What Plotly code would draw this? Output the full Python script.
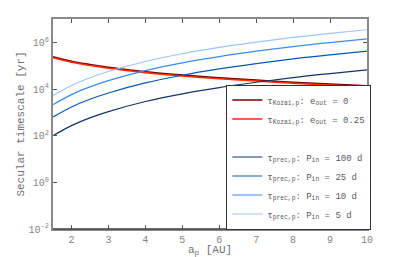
import plotly.graph_objects as go

a_p = [1.5, 2, 2.5, 3, 4, 5, 6, 7, 8, 9, 10]

kozai_e0 = [240000, 155000, 112000, 85000, 55000, 40000, 30200, 24000, 19500, 16200, 13800]
kozai_e025 = [218000, 141000, 102000, 77000, 50000, 36300, 27400, 21800, 17700, 14700, 12500]

prec_100d = [100, 270, 580, 1070, 2900, 6200, 11500, 19500, 31000, 46000, 66000]
prec_25d = [630, 1700, 3630, 6760, 18200, 38900, 72400, 123000, 195000, 288000, 417000]
prec_10d = [2140, 5750, 12300, 22900, 61700, 132000, 245000, 417000, 661000, 977000, 1410000]
prec_5d = [5250, 14100, 30200, 56200, 151000, 324000, 603000, 1020000, 1620000, 2400000, 3470000]

x_ticks = [2, 3, 4, 5, 6, 7, 8, 9, 10]
y_ticks = [1e-2, 1, 1e2, 1e4, 1e6]
y_tick_text = ["10<sup>-2</sup>", "10<sup>0</sup>", "10<sup>2</sup>", "10<sup>4</sup>", "10<sup>6</sup>"]

names = [
    "τ<sub>Kozai,p</sub>: e<sub>out</sub> = 0",
    "τ<sub>Kozai,p</sub>: e<sub>out</sub> = 0.25",
    "τ<sub>prec,p</sub>: P<sub>in</sub> = 100 d",
    "τ<sub>prec,p</sub>: P<sub>in</sub> = 25 d",
    "τ<sub>prec,p</sub>: P<sub>in</sub> = 10 d",
    "τ<sub>prec,p</sub>: P<sub>in</sub> = 5 d",
]

MONO = "Liberation Mono"

fig = go.Figure()

def add(y, name, color, width):
    fig.add_trace(go.Scatter(x=a_p, y=y, name=name, mode="lines",
                             line=dict(color=color, width=width, shape="spline")))

add(kozai_e0, names[0], "#7a0000", 1.6)
add(kozai_e025, names[1], "#ff2a00", 1.5)
fig.add_trace(go.Scatter(x=[None], y=[None], name=" ", mode="lines",
                         line=dict(color="rgba(0,0,0,0)", width=1)))
add(prec_100d, names[2], "#15336b", 1.2)
add(prec_25d, names[3], "#0a56b8", 1.2)
add(prec_10d, names[4], "#3a8cec", 1.2)
add(prec_5d, names[5], "#9cc6ff", 1.2)

axis_common = dict(
    showgrid=False, zeroline=False, ticks="inside", ticklen=4,
    tickcolor="#555555", mirror="ticks", showline=True, linewidth=2,
    linecolor="#8a8a8a", automargin=False,
    tickfont=dict(family=MONO, size=10, color="#858585"),
)

fig.update_xaxes(range=[1.5, 10], tickvals=x_ticks,
                 title=dict(text="a<sub>p</sub> [AU]", standoff=0,
                            font=dict(family=MONO, size=11, color="#707070")),
                 **axis_common)
fig.update_yaxes(type="log", range=[-2, 7], tickvals=y_ticks, ticktext=y_tick_text,
                 title=dict(text="Secular timescale [yr]", standoff=2,
                            font=dict(family=MONO, size=11, color="#707070")),
                 **axis_common)

# darker bottom axis line, as in the reference
fig.add_shape(type="line", xref="paper", yref="paper", x0=0, x1=1, y0=0, y1=0,
              line=dict(color="#404040", width=1.5), layer="above")

# page body has an 8px default margin: compensate in size/margins
fig.update_layout(
    width=399, height=249, autosize=False,
    margin=dict(l=45, r=40, t=11, b=28),
    plot_bgcolor="white", paper_bgcolor="white",
    showlegend=True,
    legend=dict(x=0.552, y=0.688, xanchor="left", yanchor="top",
                bgcolor="white", bordercolor="#333333", borderwidth=1,
                font=dict(family=MONO, size=9, color="#5a5a5a"),
                itemwidth=30, tracegroupgap=0),
)

fig.write_html("out.html")
